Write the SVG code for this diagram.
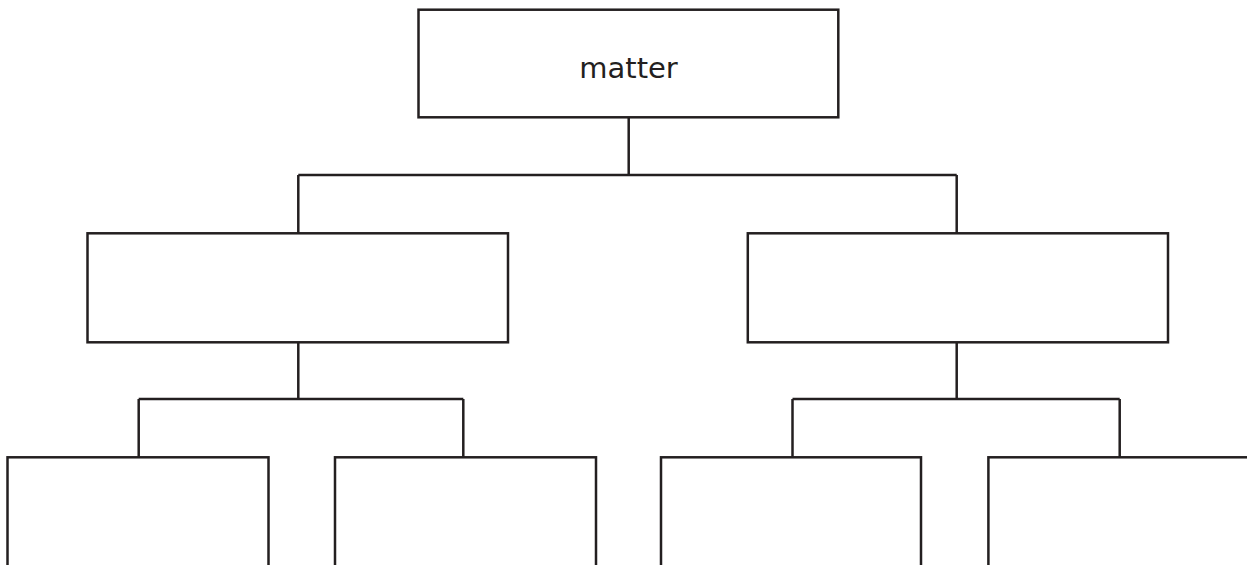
<svg xmlns="http://www.w3.org/2000/svg" width="1247" height="565" viewBox="0 0 1247 565">
<style>
.box{fill:#fff;stroke:#231f20;stroke-width:2.5}
.conn{fill:none;stroke:#231f20;stroke-width:2.5}
.lbl{font-family:"DejaVu Sans",sans-serif;font-size:29px;fill:#231f20;text-anchor:middle}
</style>
<rect width="1247" height="565" fill="#fff"/>
<g id="connectors">
<path class="conn" d="M628.7 117.3V175M298.3 175H956.7M298.3 175V233.3M956.7 175V233.3"/>
<path class="conn" d="M298.3 342.3V399M138.7 399H463.3M138.7 399V457.3M463.3 399V457.3"/>
<path class="conn" d="M956.7 342.3V399M792.5 399H1119.7M792.5 399V457.3M1119.7 399V457.3"/>
</g>
<g id="node-matter">
<rect class="box" x="418.5" y="9.7" width="419.8" height="107.6"/>
<text class="lbl" x="628.5" y="78">matter</text>
</g>
<g id="node-mid-left"><rect class="box" x="87.5" y="233.3" width="420.5" height="109"/></g>
<g id="node-mid-right"><rect class="box" x="747.8" y="233.3" width="420.2" height="109"/></g>
<g id="node-bottom-1"><rect class="box" x="7.5" y="457.3" width="261" height="130"/></g>
<g id="node-bottom-2"><rect class="box" x="335" y="457.3" width="261" height="130"/></g>
<g id="node-bottom-3"><rect class="box" x="661" y="457.3" width="260" height="130"/></g>
<g id="node-bottom-4"><rect class="box" x="988.4" y="457.3" width="260" height="130"/></g>
</svg>
